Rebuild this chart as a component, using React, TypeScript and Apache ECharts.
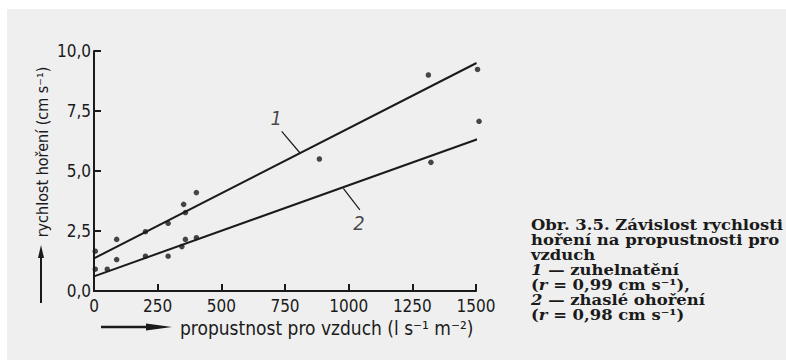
import React, { useEffect, useRef } from 'react';
import * as echarts from 'echarts';

// curve 1 — zuhelnatění (charring)
const charringPoints: number[][] = [
  [5, 1.66], [89, 2.15], [202, 2.47], [291, 2.82], [352, 3.61], [359, 3.27],
  [402, 4.1], [885, 5.5], [1313, 9.0], [1506, 9.23],
];
// curve 2 — zhaslé ohoření (extinguished burning)
const extinguishedPoints: number[][] = [
  [5, 0.91], [52, 0.91], [89, 1.31], [202, 1.45], [291, 1.45], [345, 1.85],
  [359, 2.15], [402, 2.22], [1323, 5.36], [1512, 7.07],
];
const charringFit: number[][] = [[0, 1.36], [1502, 9.5]];
const extinguishedFit: number[][] = [[0, 0.61], [1520, 6.38]];
const leader1: number[][] = [[737, 6.65], [809, 5.75]];
const leader2: number[][] = [[979, 4.28], [1044, 3.38]];
const curveLabels = [
  { name: '1', value: [716, 7.2] },
  { name: '2', value: [1040, 2.82] },
];
const xMax = 1500;
const xInterval = 250;
const yMax = 10;
const yInterval = 2.5;
const yAxisTitle = 'rychlost hoření (cm s⁻¹)';
const xAxisTitle = 'propustnost pro vzduch (l s⁻¹ m⁻²)';
const captionLines = [
  '{b|Obr. 3.5. Závislost rychlosti}',
  '{b|hoření na propustnosti pro}',
  '{b|vzduch}',
  '{i|1}{b| — zuhelnatění}',
  '{b|(}{i|r}{b| = 0,99 cm s⁻¹),}',
  '{i|2}{b| — zhaslé ohoření}',
  '{b|(}{i|r}{b| = 0,98 cm s⁻¹)}',
];

const HAND = '"DejaVu Sans Condensed", "Liberation Sans Narrow", "Liberation Sans", sans-serif';
const SERIF = '"DejaVu Serif", "Liberation Serif", serif';
const INK = '#1a1a1a';

export default function App() {
  const ref = useRef<HTMLDivElement>(null);
  useEffect(() => {
    if (!ref.current) return;
    const chart = echarts.init(ref.current, undefined, { renderer: 'svg' });
    const fmtY = (v: number) => v.toFixed(1).replace('.', ',');
    const fmtX = (v: number) => String(v);
    chart.setOption({
      animation: false,
      backgroundColor: '#ffffff',
      grid: { left: 94, top: 51, width: 382, height: 240, containLabel: false },
      xAxis: {
        type: 'value', min: 0, max: xMax, interval: xInterval,
        axisLine: { lineStyle: { color: INK, width: 2 } },
        axisTick: { inside: true, length: 7, lineStyle: { color: INK, width: 2 } },
        axisLabel: { color: INK, fontFamily: HAND, fontSize: 17, margin: 6, formatter: fmtX },
        splitLine: { show: false },
      },
      yAxis: {
        type: 'value', min: 0, max: yMax, interval: yInterval,
        axisLine: { show: true, lineStyle: { color: INK, width: 2 } },
        axisTick: { show: true, inside: true, length: 7, lineStyle: { color: INK, width: 2 } },
        axisLabel: { color: INK, fontFamily: HAND, fontSize: 17, margin: 3, formatter: fmtY },
        splitLine: { show: false },
      },
      series: [
        { type: 'line', data: charringFit, symbol: 'none', clip: false, lineStyle: { color: INK, width: 2 } },
        { type: 'line', data: extinguishedFit, symbol: 'none', clip: false, lineStyle: { color: INK, width: 2 } },
        { type: 'line', data: leader1, symbol: 'none', clip: false, lineStyle: { color: INK, width: 1.2 } },
        { type: 'line', data: leader2, symbol: 'none', clip: false, lineStyle: { color: INK, width: 1.2 } },
        { type: 'scatter', data: charringPoints, symbolSize: 5.5, clip: false, itemStyle: { color: INK } },
        { type: 'scatter', data: extinguishedPoints, symbolSize: 5.5, clip: false, itemStyle: { color: INK } },
        {
          type: 'scatter', data: curveLabels, symbolSize: 0, clip: false,
          label: {
            show: true, position: 'inside', formatter: '{b}', color: INK,
            fontFamily: HAND, fontStyle: 'italic', fontSize: 20,
          },
        },
      ],
      graphic: [
        { type: 'rect', z: -10, shape: { x: 7, y: 9, width: 779, height: 351 }, style: { fill: '#efefef' } },
        {
          type: 'text', x: 42, y: 152, rotation: Math.PI / 2,
          style: { text: yAxisTitle, fill: INK, font: `16px ${HAND}`, align: 'center', verticalAlign: 'middle' },
        },
        { type: 'line', shape: { x1: 41, y1: 303, x2: 41, y2: 254 }, style: { stroke: INK, lineWidth: 2 } },
        { type: 'polygon', shape: { points: [[41, 245], [38, 258], [44, 258]] }, style: { fill: INK } },
        {
          type: 'text', x: 180, y: 328,
          style: { text: xAxisTitle, fill: INK, font: `19px ${HAND}`, align: 'left', verticalAlign: 'middle' },
        },
        { type: 'line', shape: { x1: 101, y1: 327, x2: 150, y2: 327 }, style: { stroke: INK, lineWidth: 2.5 } },
        { type: 'polygon', shape: { points: [[172, 327], [146, 323.5], [146, 330.5]] }, style: { fill: INK } },
        {
          type: 'text', x: 531, y: 217, scaleX: 1.11,
          style: {
            text: captionLines.join('\n'),
            fill: INK,
            align: 'left', verticalAlign: 'top',
            rich: {
              b: { fontFamily: SERIF, fontWeight: 'bold', fontSize: 14.8, lineHeight: 15, fill: INK },
              i: { fontFamily: SERIF, fontWeight: 'bold', fontStyle: 'italic', fontSize: 14.8, lineHeight: 15, fill: INK },
            },
          },
        },
      ],
    });
    return () => chart.dispose();
  }, []);
  return <div ref={ref} style={{ position: 'absolute', left: 0, top: 0, width: 786, height: 360 }} />;
}
